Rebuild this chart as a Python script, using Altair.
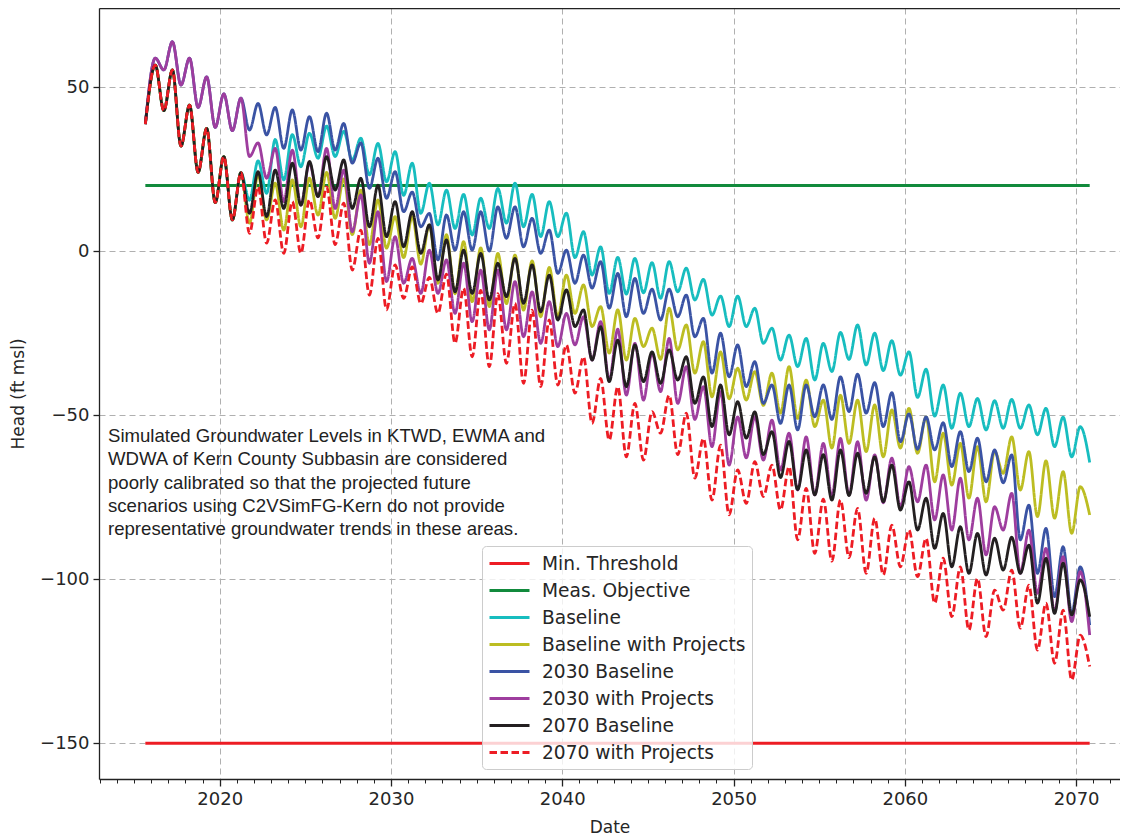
import altair as alt
import pandas as pd

SERIES = ["Min. Threshold", "Meas. Objective", "Baseline", "Baseline with Projects",
          "2030 Baseline", "2030 with Projects", "2070 Baseline", "2070 with Projects"]
COLORS = ["#ed1c24", "#118a3c", "#17bdbf", "#bcbd22", "#3a53a4", "#9e3d9e", "#231f20", "#ed1c24"]
DASHES = [[1, 0], [1, 0], [1, 0], [1, 0], [1, 0], [1, 0], [1, 0], [7.5, 3.5]]

T_START, T_END = 2015.66, 2070.79
MIN_THRESHOLD = -150
MEAS_OBJECTIVE = 20

# Shared early record: 2015.66, then spring highs / fall lows up to the 2021 spring high
EARLY_2030 = [38.7, 58.8, 55.2, 63.8, 50.6, 58.8, 43.8, 53.1, 37.7, 47.9, 36.7, 46.6]
EARLY_OTHER = [38.7, 56.7, 42.8, 55.2, 32.0, 44.5, 24.0, 37.4, 14.8, 28.8, 9.5, 23.9]

# fall lows 2021..2069, spring highs 2022..2070, final value
BASE_LOW = [15.5, 17.6, 21.7, 25.7, 28.3, 28.8, 27.8, 23.2, 21.1, 17.0, 11.5, 8.0, 6.9, 4.9, 6.9,
            8.5, 7.4, 4.4, 4.4, -2.0, -7.3, -12.9, -13.1, -12.7, -14.4, -12.4, -14.9, -19.5, -23.0,
            -23.0, -28.1, -33.2, -35.2, -39.3, -36.7, -33.0, -34.7, -36.4, -37.8, -44.6, -50.3,
            -54.0, -53.5, -54.5, -54.0, -54.0, -56.0, -59.6, -62.7]
BASE_HIGH = [27.5, 34.0, 35.5, 35.9, 38.1, 36.5, 34.4, 32.8, 30.3, 26.8, 20.7, 18.6, 17.3, 16.1,
             19.1, 20.7, 17.3, 15.1, 11.6, 5.9, 1.3, -1.9, -2.2, -3.5, -3.2, -5.2, -8.6, -13.7,
             -13.7, -17.4, -23.5, -25.6, -26.6, -28.1, -24.8, -22.5, -25.0, -27.3, -30.7, -36.0,
             -40.8, -43.3, -44.9, -45.6, -45.2, -46.9, -47.9, -50.6, -53.5]
BASE_END = -64.4

BWP_LOW = [8.5, 9.5, 6.4, 7.4, 11.0, 10.0, 5.0, 2.0, 0.9, -2.0, -4.0, -9.8, -13.0, -15.4, -16.9,
           -16.0, -18.0, -20.0, -20.0, -19.0, -23.0, -31.1, -33.2, -29.1, -33.0, -30.1, -37.2,
           -44.4, -45.0, -45.4, -47.0, -49.4, -51.0, -53.5, -60.0, -58.6, -61.1, -62.7, -60.0,
           -61.6, -70.3, -71.3, -75.3, -76.4, -67.7, -72.8, -80.9, -81.4, -86.0]
BWP_HIGH = [23.2, 20.7, 21.7, 22.2, 24.0, 22.0, 18.6, 15.6, 10.5, 10.5, 8.0, 5.0, 2.9, 1.0, -0.7,
            -1.2, -3.0, -5.0, -7.3, -10.3, -16.9, -17.9, -20.5, -23.5, -17.4, -22.5, -27.6, -30.7,
            -35.7, -36.7, -37.2, -35.2, -39.3, -45.4, -43.9, -45.4, -46.9, -48.4, -47.9, -50.5,
            -55.5, -58.6, -59.6, -61.0, -56.6, -61.1, -63.9, -67.2, -71.8]
BWP_END = -80.4

B2030_LOW = [36.9, 35.4, 31.3, 30.8, 30.3, 30.8, 26.8, 19.1, 16.1, 12.0, 7.4, -2.7, 0.3, 0.3, 0.0,
             3.9, 1.3, -0.7, -6.8, -9.8, -11.3, -17.4, -20.0, -19.0, -21.0, -20.0, -26.1, -37.2,
             -38.3, -41.3, -46.4, -52.5, -54.5, -50.5, -51.3, -48.9, -49.4, -53.5, -58.1, -60.4,
             -60.6, -65.7, -67.2, -70.3, -70.6, -88.0, -98.2, -105.3, -110.4]
B2030_HIGH = [45.0, 43.8, 43.0, 41.0, 42.0, 38.9, 33.0, 28.3, 24.2, 18.0, 11.5, 11.0, 12.0, 12.0,
              13.5, 13.5, 10.0, 6.4, 0.3, -1.2, -3.2, -6.8, -8.3, -11.6, -11.6, -13.4, -20.5, -25.0,
              -28.6, -33.7, -40.8, -40.8, -40.8, -40.8, -38.3, -37.5, -40.1, -43.1, -49.6, -50.5,
              -52.3, -55.0, -57.0, -60.6, -62.1, -77.4, -84.5, -90.1, -96.2]
B2030_END = -114.0

P2030_LOW = [28.8, 22.2, 15.1, 14.0, 16.6, 13.0, 5.9, -3.7, -9.3, -9.8, -12.9, -12.9, -19.0, -21.5,
             -24.0, -24.0, -26.1, -28.1, -29.1, -28.6, -33.2, -39.3, -43.9, -45.4, -42.8, -46.4,
             -51.3, -59.6, -65.2, -63.0, -63.7, -66.7, -72.8, -74.3, -74.5, -74.3, -75.9, -76.7,
             -77.9, -76.4, -81.9, -85.0, -88.0, -92.6, -85.0, -98.2, -104.3, -109.9, -112.9]
P2030_HIGH = [33.0, 31.3, 30.8, 26.8, 31.3, 24.7, 17.1, 12.0, 4.4, -2.2, 0.3, -2.7, -3.7, -5.8,
              -5.8, -9.3, -12.4, -15.4, -19.0, -20.0, -21.5, -23.8, -28.1, -31.1, -26.6, -35.2,
              -41.3, -42.8, -50.5, -50.5, -51.5, -55.5, -56.6, -58.6, -57.1, -58.1, -62.1, -63.1,
              -65.7, -65.2, -68.2, -69.2, -75.3, -77.9, -73.8, -85.0, -90.6, -93.1, -97.7]
P2030_END = -117.0

B2070_LOW = [11.5, 10.5, 13.0, 14.0, 16.6, 18.6, 13.0, 7.4, 4.4, 1.3, -0.7, -8.8, -12.4, -12.9,
             -14.9, -13.9, -15.9, -18.5, -21.0, -23.0, -33.2, -39.8, -41.3, -39.8, -40.3, -39.3,
             -46.4, -53.5, -56.0, -57.0, -62.0, -69.0, -72.7, -74.3, -75.9, -74.5, -73.8, -76.4,
             -78.9, -85.0, -90.6, -96.2, -98.2, -98.7, -97.2, -98.2, -107.3, -110.4, -110.9]
B2070_HIGH = [24.2, 24.7, 26.8, 27.3, 28.8, 27.8, 22.2, 20.1, 15.1, 12.0, 8.0, 3.4, 0.3, -0.7,
              -3.7, -2.2, -4.2, -7.3, -11.8, -17.9, -23.0, -27.1, -28.6, -30.7, -30.1, -32.2,
              -38.3, -40.8, -45.9, -49.0, -55.0, -58.0, -60.6, -62.0, -60.6, -61.6, -62.7, -65.2,
              -70.3, -75.3, -79.9, -84.0, -86.0, -87.5, -87.2, -89.6, -93.6, -95.1, -100.2]
B2070_END = -111.4

P2070_LOW = [5.4, 2.4, -0.7, -0.7, 4.0, 2.0, -5.8, -13.4, -17.9, -14.4, -16.0, -19.0, -28.1, -32.2,
             -35.2, -34.2, -40.3, -41.3, -40.8, -43.3, -52.5, -57.6, -62.7, -63.7, -55.5, -62.0,
             -69.2, -75.9, -80.4, -76.9, -74.8, -78.9, -88.0, -92.1, -94.5, -93.4, -98.2, -98.7,
             -96.2, -99.2, -107.3, -111.4, -115.5, -117.5, -109.4, -114.9, -121.6, -125.6, -130.7]
P2070_HIGH = [19.6, 15.6, 15.1, 15.6, 19.6, 14.6, 6.4, 3.9, -4.2, -4.8, -8.0, -7.0, -11.3, -12.0,
              -13.0, -15.9, -18.0, -21.0, -28.6, -32.2, -38.8, -41.3, -46.4, -48.9, -43.9, -49.4,
              -57.1, -59.1, -66.7, -64.2, -65.2, -65.7, -72.3, -75.6, -75.8, -78.4, -81.4, -83.5,
              -85.0, -87.5, -93.6, -96.2, -99.7, -103.3, -97.2, -101.8, -107.3, -109.4, -117.0]
P2070_END = -126.6

X_TICKS = [2020, 2030, 2040, 2050, 2060, 2070]
X_MINOR = list(range(2013, 2073))
Y_TICKS = [-150, -100, -50, 0, 50]
NOTE = ["Simulated Groundwater Levels in KTWD, EWMA and",
        "WDWA of Kern County Subbasin are considered",
        "poorly calibrated so that the projected future",
        "scenarios using C2VSimFG-Kern do not provide",
        "representative groundwater trends in these areas."]

# ---------- build table ----------
early_t = [T_START]
for yr in range(2016, 2022):
    early_t.append(yr + 0.24)
    if yr < 2021:
        early_t.append(yr + 0.74)
late_t = []
for yr in range(2021, 2070):
    late_t.append(yr + 0.74)
    late_t.append(yr + 1.24)
late_t.append(T_END)

rows = []
for name, val in [("Min. Threshold", MIN_THRESHOLD), ("Meas. Objective", MEAS_OBJECTIVE)]:
    rows.append({"t": T_START, "v": val, "series": name})
    rows.append({"t": T_END, "v": val, "series": name})

scen = [("Baseline", EARLY_OTHER, BASE_LOW, BASE_HIGH, BASE_END),
        ("Baseline with Projects", EARLY_OTHER, BWP_LOW, BWP_HIGH, BWP_END),
        ("2030 Baseline", EARLY_2030, B2030_LOW, B2030_HIGH, B2030_END),
        ("2030 with Projects", EARLY_2030, P2030_LOW, P2030_HIGH, P2030_END),
        ("2070 Baseline", EARLY_OTHER, B2070_LOW, B2070_HIGH, B2070_END),
        ("2070 with Projects", EARLY_OTHER, P2070_LOW, P2070_HIGH, P2070_END)]
for name, early, low, high, end in scen:
    vals = list(early)
    for lo, hi in zip(low, high):
        vals.extend([lo, hi])
    vals.append(end)
    for t, v in zip(early_t + late_t, vals):
        rows.append({"t": t, "v": v, "series": name})
df = pd.DataFrame(rows)

# ---------- chart ----------
FONT = "DejaVu Sans"
TXT = "#262626"
xs = alt.Scale(domain=[2012.954, 2072.56], nice=False, zero=False)
ys = alt.Scale(domain=[-160.87, 74.08], nice=False, zero=False)
cs = alt.Scale(domain=SERIES, range=COLORS)
ds = alt.Scale(domain=SERIES, range=DASHES)

legend = alt.Legend(title=None, orient="none", legendX=383, legendY=538,
                    fillColor="rgba(255,255,255,0.8)", strokeColor="#cccccc",
                    cornerRadius=4, padding=6, symbolType="M-2,0H2", symbolSize=400,
                    symbolStrokeWidth=2.8, symbolOffset=10, symbolFillColor="transparent",
                    labelFont=FONT, labelFontSize=18.6, labelColor=TXT, labelOffset=21,
                    rowPadding=5, labelLimit=400)

x_main = alt.Axis(values=X_TICKS, format="d", title="Date", orient="bottom", grid=True,
                  gridDash=[6, 4], gridColor="#b0b0b0", gridWidth=1, tickSize=7, tickWidth=1.3,
                  tickColor="#222222", domainColor="#222222", domainWidth=1.3,
                  labelFont=FONT, labelFontSize=18, labelColor=TXT, labelPadding=4,
                  labelFlush=False, titleFont=FONT, titleFontSize=17, titleFontWeight="normal",
                  titleColor=TXT, titlePadding=11)
x_minor = alt.Axis(values=X_MINOR, orient="bottom", labels=False, grid=False, domain=False,
                   tickSize=4, tickWidth=1, tickColor="#222222", title=None)
x_top = alt.Axis(orient="top", labels=False, ticks=False, grid=False, domain=True,
                 domainColor="#222222", domainWidth=1.3, title=None)
y_main = alt.Axis(values=Y_TICKS, format="d", title="Head (ft msl)", grid=True, gridDash=[6, 4],
                  gridColor="#b0b0b0", gridWidth=1, tickSize=6, tickWidth=1.3,
                  tickColor="#222222", domainColor="#222222", domainWidth=1.3,
                  labelFont=FONT, labelFontSize=18, labelColor=TXT, labelPadding=4,
                  labelFlush=False, titleFont=FONT, titleFontSize=17, titleFontWeight="normal",
                  titleColor=TXT, titlePadding=12)


def series_layer(name, xaxis, yaxis, width):
    return (alt.Chart(df)
            .transform_filter(alt.datum.series == name)
            .mark_line(strokeWidth=width, interpolate="monotone")
            .encode(x=alt.X("t:Q", scale=xs, axis=xaxis),
                    y=alt.Y("v:Q", scale=ys, axis=yaxis),
                    color=alt.Color("series:N", scale=cs, legend=legend),
                    strokeDash=alt.StrokeDash("series:N", scale=ds, legend=legend)))


layers = [series_layer("Min. Threshold", x_main, y_main, 3.0),
          series_layer("Meas. Objective", x_top, None, 3.0),
          series_layer("Baseline", x_minor, None, 2.8)]
for s in SERIES[3:]:
    layers.append(series_layer(s, None, None, 2.8))

note = (alt.Chart(pd.DataFrame({"a": [0]}))
        .mark_text(text=NOTE, align="left", baseline="alphabetic", font="Liberation Sans",
                   fontSize=18.6, lineHeight=23.3, color="#222222")
        .encode(x=alt.value(9), y=alt.value(434)))
layers.append(note)

chart = (alt.layer(*layers)
         .resolve_axis(x="independent", y="independent")
         .properties(width=1021, height=771,
                     padding={"left": 91, "top": 0, "right": 0, "bottom": 58},
                     autosize=alt.AutoSizeParams(type="none"))
         .configure_view(stroke=None))

chart.save("out.html", embed_options={"renderer": "svg", "actions": False})
